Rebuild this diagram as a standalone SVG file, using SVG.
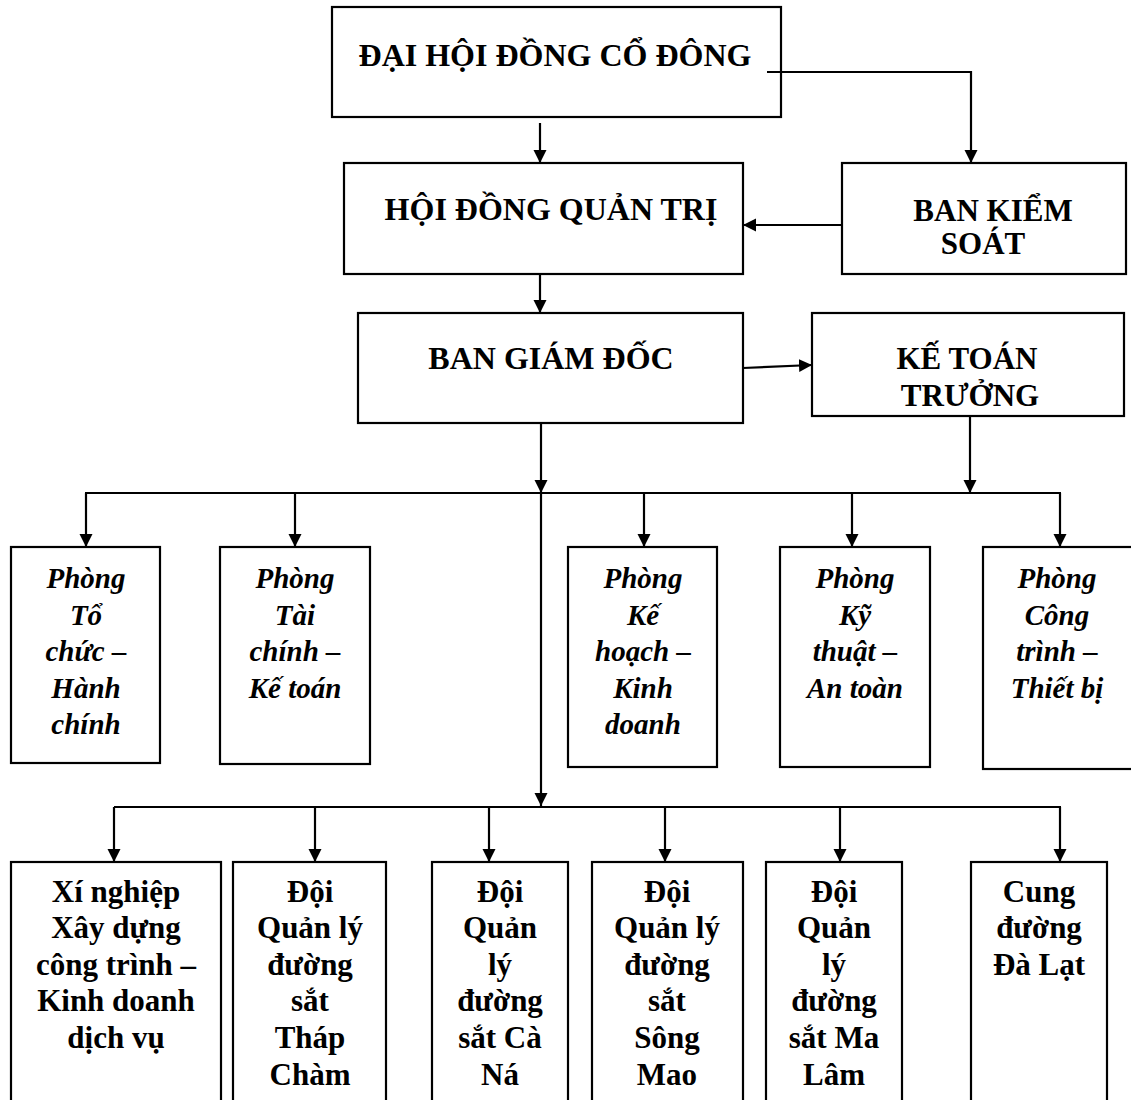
<svg xmlns="http://www.w3.org/2000/svg" width="1131" height="1100" viewBox="0 0 1131 1100">
<defs>
<marker id="ah" markerUnits="userSpaceOnUse" markerWidth="14" markerHeight="14" refX="13" refY="6.5" orient="auto">
<path d="M0,0 L13,6.5 L0,13 z" fill="#000"/>
</marker>
<style>
.box{fill:#fff;stroke:#000;stroke-width:2.2}
.ln{fill:none;stroke:#000;stroke-width:2.2}
.ar{fill:none;stroke:#000;stroke-width:2.2;marker-end:url(#ah)}
text{font-family:"Liberation Serif","Times New Roman",serif;font-weight:bold;fill:#000;text-anchor:middle}
.t32{font-size:32px}
.t31{font-size:31px}
.it{font-size:29px;font-style:italic}
.b30{font-size:31px}
</style>
</defs>
<rect width="1131" height="1100" fill="#fff"/>

<g id="dhdcd">
<rect class="box" x="332" y="7" width="449" height="110"/>
<text class="t32" x="555" y="66">ĐẠI HỘI ĐỒNG CỔ ĐÔNG</text>
</g>
<g id="hdqt">
<rect class="box" x="344" y="163" width="399" height="111"/>
<text class="t32" x="551" y="220">HỘI ĐỒNG QUẢN TRỊ</text>
</g>
<g id="bks">
<rect class="box" x="842" y="163" width="284" height="111"/>
<text class="t31" x="993" y="221">BAN KIỂM</text>
<text class="t31" x="983" y="254">SOÁT</text>
</g>
<g id="bgd">
<rect class="box" x="358" y="313" width="385" height="110"/>
<text class="t32" x="551" y="369">BAN GIÁM ĐỐC</text>
</g>
<g id="ktt">
<rect class="box" x="812" y="313" width="312" height="103"/>
<text class="t31" x="967" y="369">KẾ TOÁN</text>
<text class="t31" x="970" y="406">TRƯỞNG</text>
</g>

<g id="p-tchc">
<rect class="box" x="11" y="547" width="149" height="216"/>
<text class="it" x="86"><tspan x="86" y="588">Phòng</tspan><tspan x="86" y="625">Tổ</tspan><tspan x="86" y="661">chức –</tspan><tspan x="86" y="698">Hành</tspan><tspan x="86" y="734">chính</tspan></text>
</g>
<g id="p-tckt">
<rect class="box" x="220" y="547" width="150" height="217"/>
<text class="it" x="295"><tspan x="295" y="588">Phòng</tspan><tspan x="295" y="625">Tài</tspan><tspan x="295" y="661">chính –</tspan><tspan x="295" y="698">Kế toán</tspan></text>
</g>
<g id="p-khkd">
<rect class="box" x="568" y="547" width="149" height="220"/>
<text class="it" x="643"><tspan x="643" y="588">Phòng</tspan><tspan x="643" y="625">Kế</tspan><tspan x="643" y="661">hoạch –</tspan><tspan x="643" y="698">Kinh</tspan><tspan x="643" y="734">doanh</tspan></text>
</g>
<g id="p-ktat">
<rect class="box" x="780" y="547" width="150" height="220"/>
<text class="it" x="855"><tspan x="855" y="588">Phòng</tspan><tspan x="855" y="625">Kỹ</tspan><tspan x="855" y="661">thuật –</tspan><tspan x="855" y="698">An toàn</tspan></text>
</g>
<g id="p-cttb">
<rect class="box" x="983" y="547" width="150" height="222"/>
<text class="it" x="1057"><tspan x="1057" y="588">Phòng</tspan><tspan x="1057" y="625">Công</tspan><tspan x="1057" y="661">trình –</tspan><tspan x="1057" y="698">Thiết bị</tspan></text>
</g>

<g id="xn-xd">
<rect class="box" x="11" y="862" width="210" height="260"/>
<text class="b30" x="116"><tspan x="116" y="902">Xí nghiệp</tspan><tspan x="116" y="938">Xây dựng</tspan><tspan x="116" y="975">công trình –</tspan><tspan x="116" y="1011">Kinh doanh</tspan><tspan x="116" y="1048">dịch vụ</tspan></text>
</g>
<g id="d-thapcham">
<rect class="box" x="233" y="862" width="153" height="260"/>
<text class="b30" x="310"><tspan x="310" y="902">Đội</tspan><tspan x="310" y="938">Quản lý</tspan><tspan x="310" y="975">đường</tspan><tspan x="310" y="1011">sắt</tspan><tspan x="310" y="1048">Tháp</tspan><tspan x="310" y="1085">Chàm</tspan></text>
</g>
<g id="d-cana">
<rect class="box" x="432" y="862" width="136" height="260"/>
<text class="b30" x="500"><tspan x="500" y="902">Đội</tspan><tspan x="500" y="938">Quản</tspan><tspan x="500" y="975">lý</tspan><tspan x="500" y="1011">đường</tspan><tspan x="500" y="1048">sắt Cà</tspan><tspan x="500" y="1085">Ná</tspan></text>
</g>
<g id="d-songmao">
<rect class="box" x="592" y="862" width="151" height="260"/>
<text class="b30" x="667"><tspan x="667" y="902">Đội</tspan><tspan x="667" y="938">Quản lý</tspan><tspan x="667" y="975">đường</tspan><tspan x="667" y="1011">sắt</tspan><tspan x="667" y="1048">Sông</tspan><tspan x="667" y="1085">Mao</tspan></text>
</g>
<g id="d-malam">
<rect class="box" x="766" y="862" width="136" height="260"/>
<text class="b30" x="834"><tspan x="834" y="902">Đội</tspan><tspan x="834" y="938">Quản</tspan><tspan x="834" y="975">lý</tspan><tspan x="834" y="1011">đường</tspan><tspan x="834" y="1048">sắt Ma</tspan><tspan x="834" y="1085">Lâm</tspan></text>
</g>
<g id="cung-dalat">
<rect class="box" x="971" y="862" width="136" height="260"/>
<text class="b30" x="1039"><tspan x="1039" y="902">Cung</tspan><tspan x="1039" y="938">đường</tspan><tspan x="1039" y="975">Đà Lạt</tspan></text>
</g>

<g id="connectors">
<polyline class="ar" points="767,72 971,72 971,163"/>
<line class="ar" x1="540" y1="123" x2="540" y2="163"/>
<line class="ar" x1="842" y1="225" x2="743" y2="225"/>
<line class="ar" x1="540" y1="274" x2="540" y2="313"/>
<line class="ar" x1="743" y1="368" x2="812" y2="365"/>
<line class="ar" x1="541" y1="423" x2="541" y2="493"/>
<line class="ar" x1="970" y1="416" x2="970" y2="493"/>
<line class="ln" x1="85" y1="493" x2="1061" y2="493"/>
<line class="ar" x1="86" y1="493" x2="86" y2="547"/>
<line class="ar" x1="295" y1="493" x2="295" y2="547"/>
<line class="ar" x1="644" y1="493" x2="644" y2="547"/>
<line class="ar" x1="852" y1="493" x2="852" y2="547"/>
<line class="ar" x1="1060" y1="493" x2="1060" y2="547"/>
<line class="ar" x1="541" y1="493" x2="541" y2="806"/>
<line class="ln" x1="114" y1="807" x2="1061" y2="807"/>
<line class="ar" x1="114" y1="807" x2="114" y2="862"/>
<line class="ar" x1="315" y1="807" x2="315" y2="862"/>
<line class="ar" x1="489" y1="807" x2="489" y2="862"/>
<line class="ar" x1="665" y1="807" x2="665" y2="862"/>
<line class="ar" x1="840" y1="807" x2="840" y2="862"/>
<line class="ar" x1="1060" y1="807" x2="1060" y2="862"/>
</g>
</svg>
